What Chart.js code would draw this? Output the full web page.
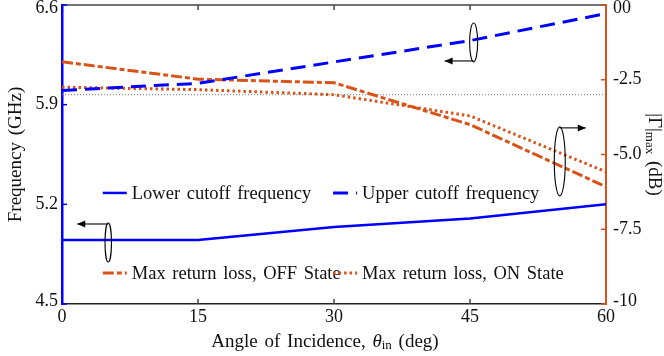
<!DOCTYPE html>
<html>
<head>
<meta charset="utf-8">
<script src="https://cdn.jsdelivr.net/npm/chart.js@4"></script>
<style>
html, body { margin: 0; padding: 0; background: #fff; }
#wrap { width: 664px; height: 356px; }
</style>
</head>
<body>
<div id="wrap"><canvas id="freqChart" width="664" height="356"></canvas></div>
<script>
// data
const angles = [0, 15, 30, 45, 60];
const lowerCutoff = [4.95, 4.95, 5.04, 5.10, 5.20];
const upperCutoff = [6.00, 6.05, 6.20, 6.35, 6.54];
const offState = [-1.90, -2.48, -2.60, -4.00, -6.08];
const onState = [-2.75, -2.83, -3.00, -3.71, -5.58];
const refLevel = -3;

const angleTicks = [0, 15, 30, 45, 60];
const freqTicks = [4.5, 5.2, 5.9, 6.6];
const freqTickLabels = ['4.5', '5.2', '5.9', '6.6'];
const dbTicks = [-10, -7.5, -5, -2.5, 0];
const dbTickLabels = ['-10', '-7.5', '-5.0', '-2.5', '00'];
const seriesNames = ['Lower cutoff frequency', 'Upper cutoff frequency',
                     'Max return loss, OFF State', 'Max return loss, ON State'];

const BLUE = '#0000ff';
const ORANGE = '#d95319';
const serif = "'Liberation Serif', 'Times New Roman', serif";

function toPoints(ys) {
    return angles.map((a, i) => ({ x: a, y: ys[i] }));
}

// where the legend entries and the ellipse markers sit (angle / axis value)
const legendSpots = [
    { x: 4.5, y: 5.28, axis: 'yFreq' },
    { x: 29.9, y: 5.28, axis: 'yFreq' },
    { x: 4.5, y: 4.718, axis: 'yFreq' },
    { x: 29.9, y: 4.718, axis: 'yFreq' }
];
const markers = [
    { x: 5.1, y: 4.932, axis: 'yFreq', rx: 3.2, ry: 19.5, from: 'top', dx: -31 },
    { x: 45.4, y: 6.337, axis: 'yFreq', rx: 4, ry: 19.5, from: 'bottom', dx: -29 },
    { x: 54.9, y: -5.23, axis: 'yDb', rx: 5.5, ry: 34.5, from: 'top', dx: 26 }
];

function drawArrow(ctx, x1, y, x2) {
    ctx.beginPath();
    ctx.moveTo(x1, y);
    ctx.lineTo(x2, y);
    ctx.stroke();
    const dir = x2 < x1 ? 1 : -1;
    ctx.beginPath();
    ctx.moveTo(x2, y);
    ctx.lineTo(x2 + dir * 8, y - 3.5);
    ctx.lineTo(x2 + dir * 8, y + 3.5);
    ctx.closePath();
    ctx.fill();
}

function drawParts(ctx, parts, cx, cy) {
    let total = 0;
    parts.forEach(p => { ctx.font = p.f; total += ctx.measureText(p.t).width; });
    let x = cx - total / 2;
    ctx.textAlign = 'left';
    ctx.textBaseline = 'middle';
    parts.forEach(p => {
        ctx.font = p.f;
        ctx.fillText(p.t, x, cy + p.dy);
        x += ctx.measureText(p.t).width;
    });
}

const decorPlugin = {
    id: 'decor',
    afterDatasetsDraw(chart) {
        const ctx = chart.ctx;
        const area = chart.chartArea;
        const xs = chart.scales.x;
        const yF = chart.scales.yFreq;
        const yD = chart.scales.yDb;
        ctx.save();

        // top frame line + inward ticks
        ctx.strokeStyle = '#444';
        ctx.lineWidth = 1.5;
        ctx.beginPath();
        ctx.moveTo(area.left, area.top);
        ctx.lineTo(area.right, area.top);
        ctx.stroke();
        angleTicks.slice(1, -1).forEach(v => {
            const px = xs.getPixelForValue(v);
            ctx.beginPath();
            ctx.moveTo(px, area.top);
            ctx.lineTo(px, area.top + 5);
            ctx.moveTo(px, area.bottom);
            ctx.lineTo(px, area.bottom - 5);
            ctx.stroke();
        });
        // left / right inward ticks
        ctx.strokeStyle = BLUE;
        freqTicks.forEach(v => {
            const py = yF.getPixelForValue(v);
            ctx.beginPath();
            ctx.moveTo(area.left, py);
            ctx.lineTo(area.left + 5, py);
            ctx.stroke();
        });
        ctx.strokeStyle = ORANGE;
        dbTicks.forEach(v => {
            const py = yD.getPixelForValue(v);
            ctx.beginPath();
            ctx.moveTo(area.right, py);
            ctx.lineTo(area.right - 5, py);
            ctx.stroke();
        });

        // y tick labels (end labels kept inside the picture like the original)
        ctx.fillStyle = '#111';
        ctx.font = '18px ' + serif;
        ctx.textBaseline = 'middle';
        const clampY = py => Math.min(Math.max(py, area.top + 3), area.bottom - 3);
        ctx.textAlign = 'right';
        freqTicks.forEach((v, i) => {
            ctx.fillText(freqTickLabels[i], area.left - 4, clampY(yF.getPixelForValue(v)));
        });
        ctx.textAlign = 'left';
        dbTicks.forEach((v, i) => {
            ctx.fillText(dbTickLabels[i], area.right + 7, clampY(yD.getPixelForValue(v)));
        });

        // ellipses and arrows
        ctx.strokeStyle = '#000';
        ctx.fillStyle = '#000';
        ctx.lineWidth = 1.1;
        markers.forEach(m => {
            const cx = xs.getPixelForValue(m.x);
            const cy = chart.scales[m.axis].getPixelForValue(m.y);
            ctx.beginPath();
            ctx.ellipse(cx, cy, m.rx, m.ry, 0, 0, Math.PI * 2);
            ctx.stroke();
            const ay = m.from === 'top' ? cy - m.ry + 1 : cy + m.ry - 1;
            drawArrow(ctx, cx, ay, cx + m.dx);
        });

        // legend
        ctx.font = '18.5px ' + serif;
        ctx.wordSpacing = '2px';
        ctx.textBaseline = 'middle';
        ctx.textAlign = 'left';
        chart.data.datasets.slice(0, 4).forEach((ds, i) => {
            const s = legendSpots[i];
            const lx = xs.getPixelForValue(s.x);
            const ly = chart.scales[s.axis].getPixelForValue(s.y);
            ctx.strokeStyle = ds.borderColor;
            ctx.lineWidth = ds.borderWidth;
            ctx.setLineDash(ds.borderDash || []);
            ctx.beginPath();
            ctx.moveTo(lx, ly);
            ctx.lineTo(lx + 24, ly);
            ctx.stroke();
            ctx.setLineDash([]);
            ctx.fillStyle = '#111';
            ctx.fillText(ds.label, lx + 29, ly + 1);
        });

        // axis titles (with subscripts)
        ctx.fillStyle = '#111';
        const big = '19px ' + serif;
        const ital = 'italic 19px ' + serif;
        const small = '13px ' + serif;
        drawParts(ctx, [
            { t: 'Angle of Incidence, ', f: big, dy: 0 },
            { t: 'θ', f: ital, dy: 0 },
            { t: 'in', f: small, dy: 4 },
            { t: ' (deg)', f: big, dy: 0 }
        ], 325, 342);

        ctx.save();
        ctx.translate(16, (area.top + area.bottom) / 2);
        ctx.rotate(-Math.PI / 2);
        drawParts(ctx, [{ t: 'Frequency (GHz)', f: big, dy: 0 }], 0, 0);
        ctx.restore();

        ctx.save();
        ctx.translate(654, (area.top + area.bottom) / 2);
        ctx.rotate(Math.PI / 2);
        drawParts(ctx, [
            { t: '|Γ|', f: big, dy: 0 },
            { t: 'max', f: small, dy: 5 },
            { t: ' (dB)', f: big, dy: 0 }
        ], 0, 0);
        ctx.restore();

        ctx.restore();
    }
};

const ctx = document.getElementById('freqChart').getContext('2d');
window.freqChart = new Chart(ctx, {
    type: 'line',
    data: {
        datasets: [
            {
                label: seriesNames[0], data: toPoints(lowerCutoff), yAxisID: 'yFreq',
                borderColor: BLUE, borderWidth: 2.5, borderDash: []
            },
            {
                label: seriesNames[1], data: toPoints(upperCutoff), yAxisID: 'yFreq',
                borderColor: BLUE, borderWidth: 3, borderDash: [15, 8]
            },
            {
                label: seriesNames[2], data: toPoints(offState), yAxisID: 'yDb',
                borderColor: ORANGE, borderWidth: 3, borderDash: [11, 3, 5, 3]
            },
            {
                label: seriesNames[3], data: toPoints(onState), yAxisID: 'yDb',
                borderColor: ORANGE, borderWidth: 3, borderDash: [2.5, 3]
            },
            {
                label: 'ref', data: [{ x: angles[0], y: refLevel }, { x: angles[angles.length - 1], y: refLevel }],
                yAxisID: 'yDb', borderColor: '#777', borderWidth: 1, borderDash: [1, 2]
            }
        ]
    },
    options: {
        responsive: false,
        animation: false,
        layout: { padding: { top: 5, left: 0, right: 0, bottom: 0 } },
        elements: { point: { radius: 0 }, line: { tension: 0 } },
        plugins: { legend: { display: false }, tooltip: { enabled: false } },
        scales: {
            x: {
                type: 'linear', min: 0, max: 60,
                afterBuildTicks: s => { s.ticks = angleTicks.map(v => ({ value: v })); },
                afterFit: s => { s.height = 52; s.paddingLeft = 0; s.paddingRight = 0; },
                grid: { display: false, drawTicks: false },
                border: { display: true, color: '#222', width: 1.5 },
                ticks: { padding: 2, color: '#111', font: { family: serif, size: 18 } }
            },
            yFreq: {
                type: 'linear', position: 'left', min: 4.5, max: 6.6,
                afterBuildTicks: s => { s.ticks = freqTicks.map(v => ({ value: v })); },
                afterFit: s => { s.width = 62; s.paddingTop = 0; s.paddingBottom = 0; },
                grid: { display: false, drawTicks: false },
                border: { display: true, color: BLUE, width: 2.5 },
                ticks: { display: false }
            },
            yDb: {
                type: 'linear', position: 'right', min: -10, max: 0,
                afterBuildTicks: s => { s.ticks = dbTicks.map(v => ({ value: v })); },
                afterFit: s => { s.width = 58; s.paddingTop = 0; s.paddingBottom = 0; },
                grid: { display: false, drawTicks: false },
                border: { display: true, color: ORANGE, width: 2 },
                ticks: { display: false }
            }
        }
    },
    plugins: [decorPlugin]
});
</script>
</body>
</html>
